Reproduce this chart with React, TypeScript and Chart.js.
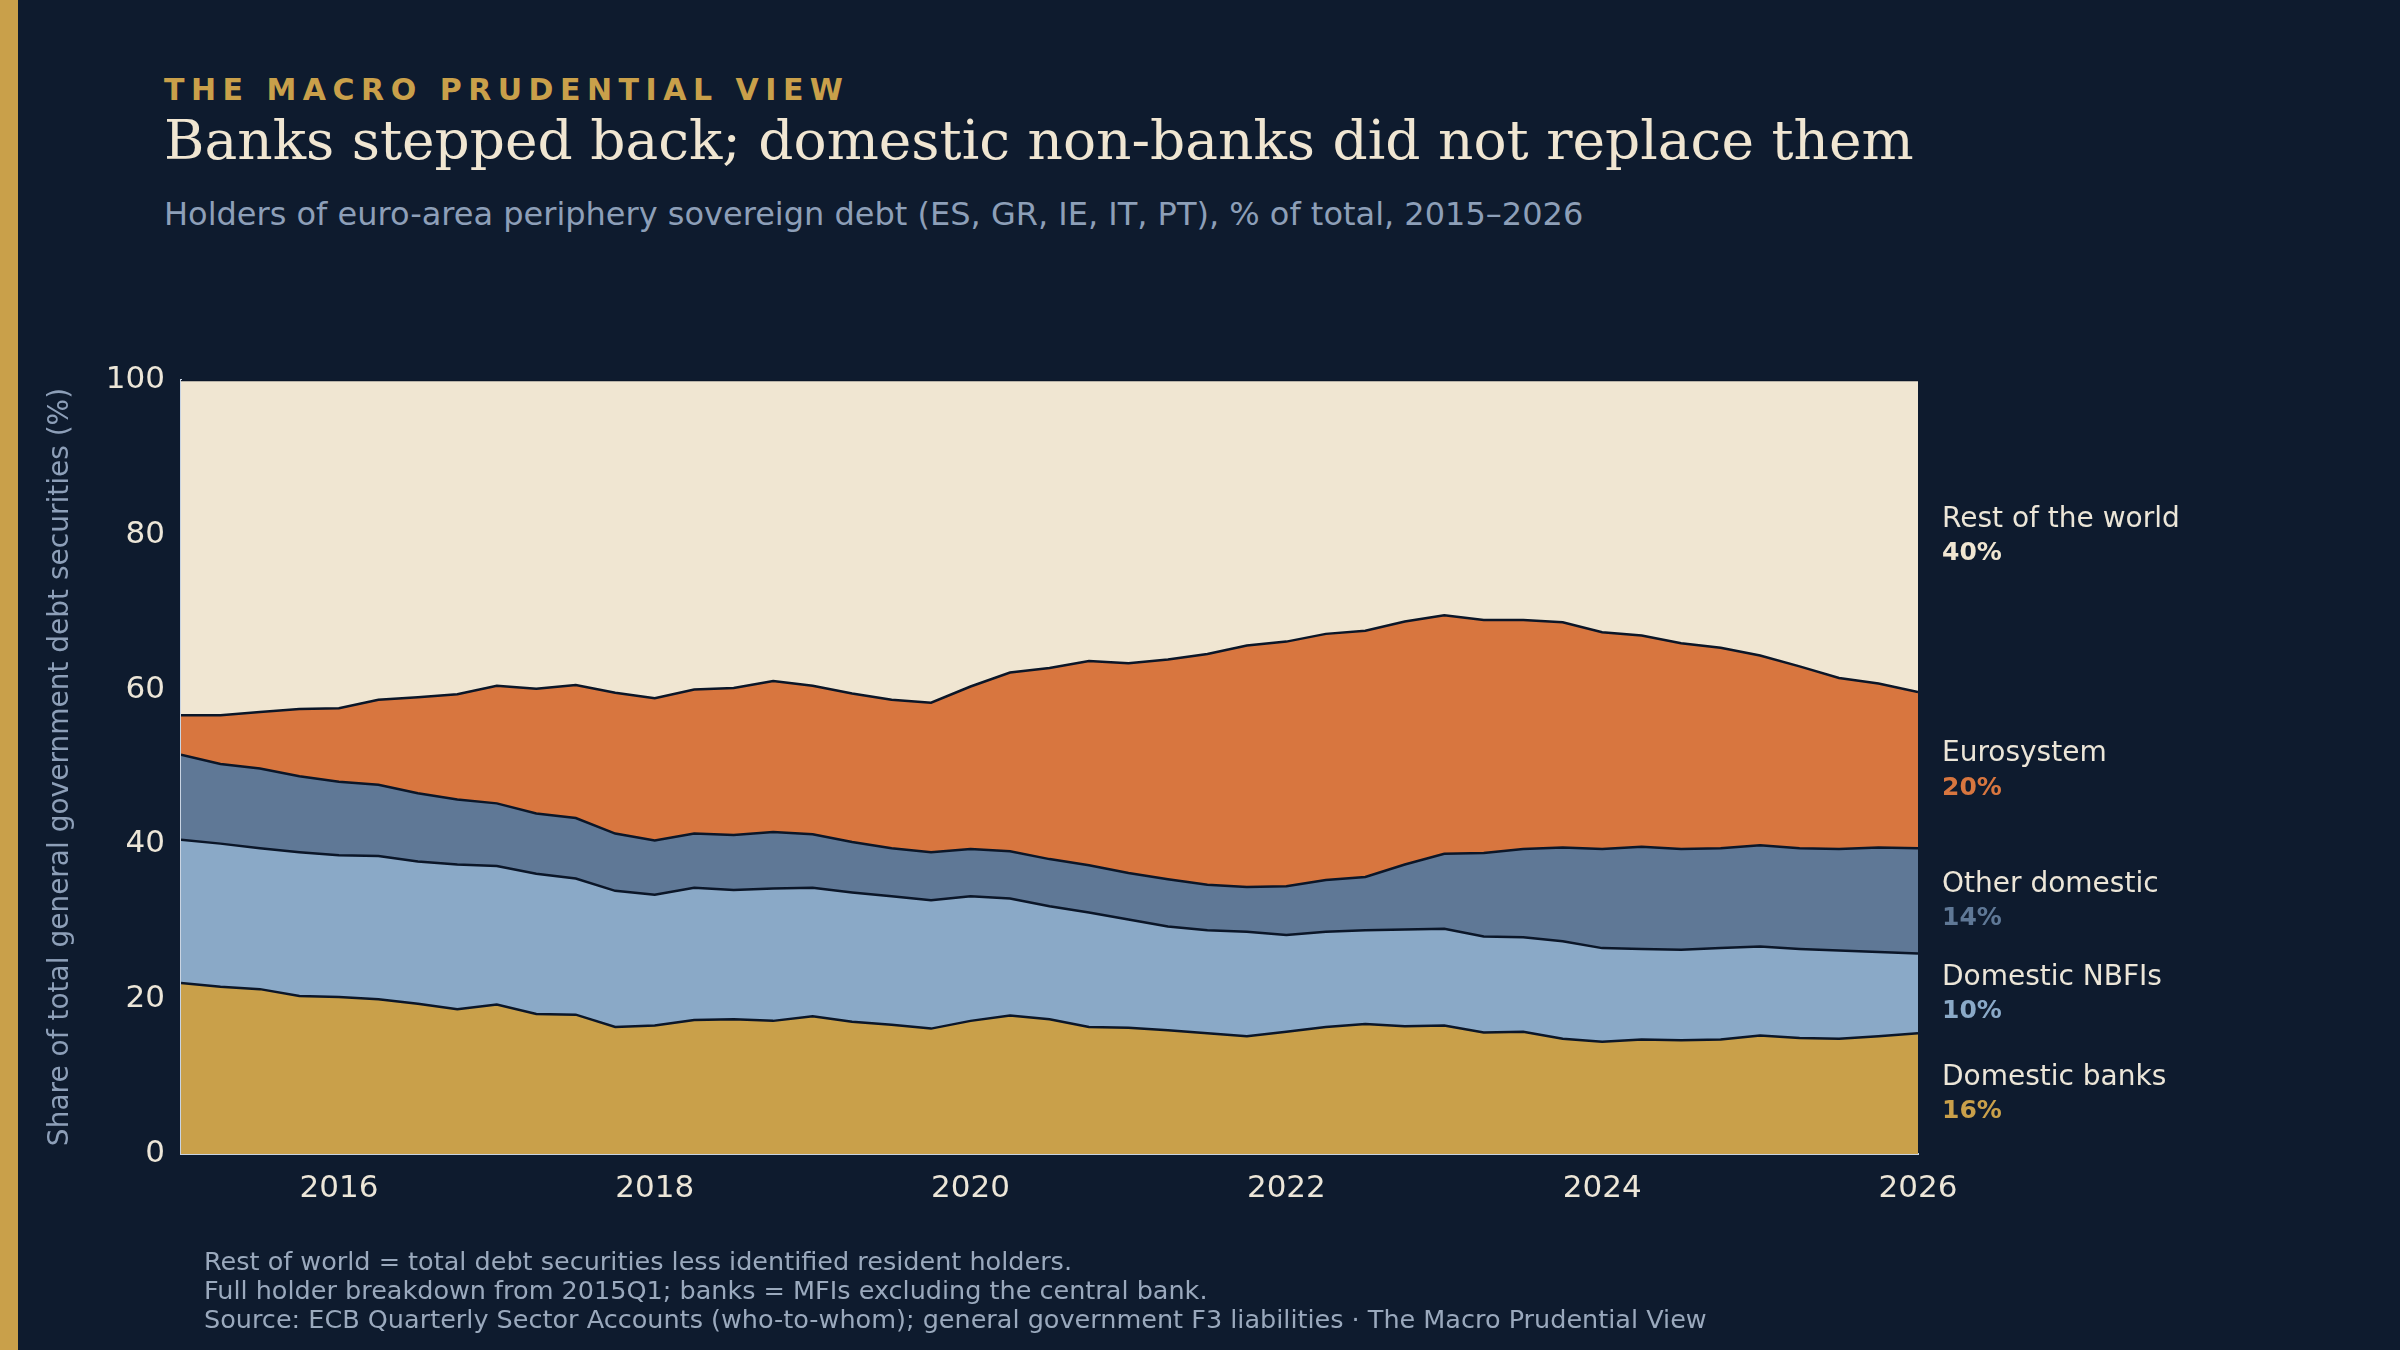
import React, { useEffect, useRef } from "react";
import { Chart, registerables } from "chart.js";
Chart.register(...registerables);

const startYear = 2015;
const quarterLabels: string[] = [];
for (let y = 2015; y <= 2026; y++) for (let q = 1; q <= 4; q++) if (!(y === 2026 && q > 1)) quarterLabels.push(`${y}Q${q}`);

const domesticBanks = [22.1,21.6,21.3,20.4,20.3,20.0,19.4,18.7,19.3,18.1,18.0,16.4,16.6,17.3,17.4,17.2,17.8,17.1,16.7,16.2,17.2,17.9,17.4,16.4,16.3,16.0,15.6,15.2,15.8,16.4,16.8,16.5,16.6,15.7,15.8,14.9,14.5,14.8,14.7,14.8,15.3,15.0,14.9,15.2,15.6];
const domesticNBFIs = [18.5,18.5,18.2,18.6,18.3,18.5,18.4,18.7,17.9,18.1,17.6,17.6,16.9,17.1,16.7,17.1,16.6,16.7,16.6,16.6,16.1,15.1,14.6,14.8,14.0,13.4,13.3,13.5,12.5,12.3,12.1,12.5,12.5,12.4,12.2,12.6,12.1,11.7,11.7,11.8,11.5,11.5,11.4,10.9,10.3];
const otherDomestic = [11.0,10.3,10.3,9.8,9.5,9.2,8.8,8.4,8.1,7.8,7.8,7.4,7.0,7.0,7.1,7.3,6.9,6.5,6.2,6.2,6.1,6.1,6.1,6.1,6.0,6.1,5.9,5.8,6.3,6.7,6.9,8.4,9.7,10.8,11.4,12.1,12.8,13.2,13.0,12.9,13.1,13.0,13.1,13.5,13.6];
const eurosystem = [5.1,6.3,7.3,8.7,9.5,11.0,12.4,13.6,15.2,16.1,17.2,18.2,18.4,18.6,19.0,19.5,19.2,19.2,19.2,19.3,21.0,23.1,24.7,26.4,27.1,28.4,29.8,31.2,31.6,31.8,31.8,31.4,30.8,30.1,29.6,29.1,28.0,27.3,26.6,25.9,24.5,23.5,22.1,21.2,20.2];
const restOfWorld = [43.3,43.3,42.9,42.5,42.4,41.3,41.0,40.6,39.5,39.9,39.4,40.4,41.1,40.0,39.8,38.9,39.5,40.5,41.3,41.7,39.6,37.8,37.2,36.3,36.6,36.1,35.4,34.3,33.8,32.8,32.4,31.2,30.4,31.0,31.0,31.3,32.6,33.0,34.0,34.6,35.6,37.0,38.5,39.2,40.3];

const seriesNames = ["Domestic banks", "Domestic NBFIs", "Other domestic", "Eurosystem", "Rest of the world"];
const seriesLabels = ["16%", "10%", "14%", "20%", "40%"];
const seriesData = [domesticBanks, domesticNBFIs, otherDomestic, eurosystem, restOfWorld];
const colors = ["#c9a04a", "#8aa9c7", "#5f7896", "#d8763f", "#f0e6d2"];
const xTicks = [2016, 2018, 2020, 2022, 2024, 2026];

const qToX = (s: string) => parseInt(s.slice(0, 4)) + (parseInt(s.slice(5)) - 1) / 4;

const rightLabels = {
  id: "rightLabels",
  afterDraw(chart: any) {
    const ctx = chart.ctx;
    const ys = chart.scales.y;
    const xs = chart.scales.x;
    const last = quarterLabels.length - 1;
    let cum = 0;
    ctx.save();
    seriesData.forEach((d, i) => {
      const mid = cum + d[last] / 2;
      cum += d[last];
      const y = ys.getPixelForValue(mid);
      const x = xs.right + 24;
      ctx.textAlign = "left";
      ctx.textBaseline = "middle";
      ctx.font = "28px 'DejaVu Sans'";
      ctx.fillStyle = "#ece6d8";
      ctx.fillText(seriesNames[i], x, y - 16);
      ctx.font = "bold 25px 'DejaVu Sans'";
      ctx.fillStyle = colors[i];
      ctx.fillText(seriesLabels[i], x, y + 18);
    });
    ctx.restore();
  },
};

export default function App() {
  const ref = useRef<HTMLCanvasElement>(null);
  useEffect(() => {
    document.body.style.margin = "0";
    const chart = new Chart(ref.current!, {
      type: "line",
      data: {
        datasets: seriesData.map((d, i) => ({
          label: seriesNames[i],
          data: d.map((v, j) => ({ x: qToX(quarterLabels[j]), y: v })),
          backgroundColor: colors[i],
          borderColor: "#0b1628",
          borderWidth: 2.5,
          pointRadius: 0,
          fill: i === 0 ? "origin" : "-1",
          tension: 0,
        })),
      },
      options: {
        animation: false,
        responsive: false,
        maintainAspectRatio: false,
        layout: { padding: { top: 380, right: 482, bottom: 130, left: 40 } },
        plugins: { legend: { display: false }, tooltip: { enabled: false } },
        scales: {
          x: {
            type: "linear",
            min: 2015,
            max: 2026,
            afterBuildTicks: (s: any) => { s.ticks = xTicks.map((v) => ({ value: v })); },
            afterFit: (s: any) => { s.height = 66; },
            grid: { display: false, drawTicks: true, tickLength: 8, color: "#c9d4e2" },
            border: { display: true, color: "#c9d4e2", width: 2 },
            ticks: { color: "#ece6d8", font: { size: 31, family: "DejaVu Sans" }, padding: 8, maxRotation: 0, callback: (v: any) => String(v) },
          },
          y: {
            stacked: true,
            min: 0,
            max: 100,
            afterFit: (s: any) => { s.width = 141; },
            grid: { display: false, drawTicks: true, tickLength: 8 },
            border: { display: true, color: "#c9d4e2", width: 2 },
            ticks: { stepSize: 20, color: "#ece6d8", font: { size: 31, family: "DejaVu Sans" }, padding: 8 },
            title: { display: true, text: "Share of total general government debt securities (%)", color: "#8d9fb8", font: { size: 28, family: "DejaVu Sans" }, padding: 4 },
          },
        },
      },
      plugins: [rightLabels],
    });
    return () => chart.destroy();
  }, []);

  const sans = "'DejaVu Sans', sans-serif";
  return (
    <div style={{ position: "relative", width: 2400, height: 1350, background: "#0e1b2e", overflow: "hidden" }}>
      <div style={{ position: "absolute", left: 0, top: 0, width: 18, height: 1350, background: "#c9a04a" }} />
      <div style={{ position: "absolute", left: 164, top: 72, fontFamily: sans, fontWeight: "bold", fontSize: 30, letterSpacing: 6.5, color: "#c9a04a" }}>THE MACRO PRUDENTIAL VIEW</div>
      <div style={{ position: "absolute", left: 164, top: 108, fontFamily: "'DejaVu Serif', serif", fontSize: 55, color: "#f0e6d2" }}>Banks stepped back; domestic non-banks did not replace them</div>
      <div style={{ position: "absolute", left: 164, top: 195, fontFamily: sans, fontSize: 32, color: "#8d9fb8" }}>Holders of euro-area periphery sovereign debt (ES, GR, IE, IT, PT), % of total, 2015–2026</div>
      <canvas ref={ref} width={2400} height={1350} style={{ position: "absolute", left: 0, top: 0, width: 2400, height: 1350 }} />
      <div style={{ position: "absolute", left: 204, top: 1247, fontFamily: sans, fontSize: 25.5, lineHeight: "29px", color: "#9aa9bd" }}>
        <div>Rest of world = total debt securities less identified resident holders.</div>
        <div>Full holder breakdown from 2015Q1; banks = MFIs excluding the central bank.</div>
        <div>Source: ECB Quarterly Sector Accounts (who-to-whom); general government F3 liabilities  ·  The Macro Prudential View</div>
      </div>
    </div>
  );
}
